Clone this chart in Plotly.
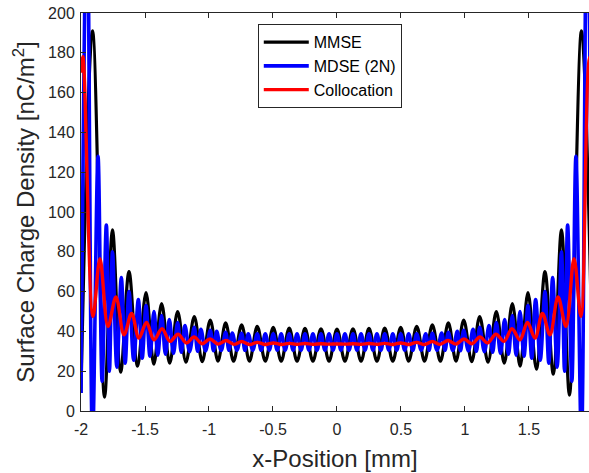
import plotly.graph_objects as go

# MMSE (black): peaks and troughs, x in mm
MMSE_X = [-2.000, -1.910, -1.816, -1.754, -1.690, -1.625, -1.558, -1.492, -1.431, -1.370,
          -1.307, -1.245, -1.180, -1.115, -1.053, -0.990, -0.930, -0.870, -0.808, -0.745,
          -0.684, -0.623, -0.560, -0.498, -0.436, -0.373, -0.312, -0.250, -0.188, -0.125,
          -0.062, 0.000, 0.062, 0.125, 0.188, 0.250, 0.312, 0.373, 0.436, 0.498,
          0.560, 0.623, 0.684, 0.745, 0.808, 0.870, 0.930, 0.990, 1.053, 1.115,
          1.180, 1.245, 1.307, 1.370, 1.431, 1.492, 1.558, 1.625, 1.690, 1.754,
          1.816, 1.910, 2.000]
MMSE_Y = [9, 191, 7, 91, 19.5, 70, 22.5, 59.5, 23.5, 54,
          24, 50, 24.5, 47.5, 24.8, 45.7, 25, 44.3, 25, 43.3,
          25, 42.5, 25, 42, 25, 41.7, 25, 41.5, 25, 41.3,
          25, 41.2, 25, 41.3, 25, 41.5, 25, 41.7, 25, 42,
          25, 42.5, 25, 43.3, 25, 44.3, 25, 45.7, 24.8, 47.5,
          24.5, 50, 24, 54, 22.5, 59.5, 21, 70, 18.5, 91,
          8, 191, 9]

# MDSE (2N) (blue)
MDSE_X = [-2.000, -1.953, -1.910, -1.867, -1.835, -1.802, -1.778, -1.754, -1.720, -1.685,
          -1.655, -1.625, -1.588, -1.552, -1.522, -1.492, -1.461, -1.430, -1.400, -1.370,
          -1.340, -1.310, -1.278, -1.245, -1.216, -1.188, -1.152, -1.115, -1.089, -1.063,
          -1.027, -0.990, -0.965, -0.940, -0.905, -0.870, -0.844, -0.818, -0.782, -0.745,
          -0.719, -0.693, -0.658, -0.623, -0.592, -0.560, -0.529, -0.498, -0.467, -0.436,
          -0.405, -0.373, -0.343, -0.312, -0.281, -0.250, -0.219, -0.188, -0.156, -0.125,
          -0.094, -0.062, -0.031, 0.000,
          0.031, 0.062, 0.094, 0.125, 0.156, 0.188, 0.219, 0.250, 0.281, 0.312,
          0.343, 0.373, 0.405, 0.436, 0.467, 0.498, 0.529, 0.560, 0.592, 0.623,
          0.658, 0.693, 0.719, 0.745, 0.782, 0.818, 0.844, 0.870, 0.905, 0.940,
          0.965, 0.990, 1.027, 1.063, 1.089, 1.115, 1.152, 1.188, 1.216, 1.245,
          1.278, 1.310, 1.340, 1.370, 1.400, 1.430, 1.461, 1.492, 1.522, 1.552,
          1.588, 1.625, 1.655, 1.685, 1.720, 1.754, 1.778, 1.802, 1.835, 1.867,
          1.910, 1.953, 2.000]
MDSE_Y = [9, 260, -15, 128, 15, 93.5, 20, 80, 22, 67,
          24, 60, 25.5, 56, 26.5, 53, 27.5, 50, 28, 48,
          28.5, 46, 29, 44.5, 29.5, 43, 29.8, 42, 30, 41,
          30.2, 40.5, 30.3, 40, 30.4, 39.5, 30.5, 39.2, 30.5, 39,
          30.5, 38.8, 30.5, 38.8, 30.5, 38.8, 30.5, 38.8, 30.5, 38.8,
          30.5, 38.8, 30.5, 38.8, 30.5, 38.8, 30.5, 38.8, 30.5, 38.8,
          30.5, 38.8, 30.5, 38.8,
          30.5, 38.8, 30.5, 38.8, 30.5, 38.8, 30.5, 38.8, 30.5, 38.8,
          30.5, 38.8, 30.5, 38.8, 30.5, 38.8, 30.5, 38.8, 30.5, 38.8,
          30.5, 38.8, 30.5, 39, 30.5, 39.2, 30.5, 39.5, 30.4, 40,
          30.3, 40.5, 30.2, 41, 30, 42, 29.8, 43, 29.5, 44.5,
          29, 46, 28.5, 48, 28, 50, 27.5, 53, 26.5, 56,
          25.5, 60, 24, 67, 22, 80, 20, 93.5, 15, 128,
          -15, 260, 9]

# Collocation (red)
COLL_X = [-2.000, -1.985, -1.906, -1.852, -1.789, -1.727, -1.664, -1.605, -1.547, -1.488,
          -1.430, -1.367, -1.305, -1.242, -1.176, -1.117, -1.055, -0.992, -0.930, -0.867,
          -0.805, -0.745, -0.684, -0.623, -0.560, -0.498, -0.436, -0.373, -0.312, -0.250,
          -0.188, -0.125, -0.062, 0.000,
          0.062, 0.125, 0.188, 0.250, 0.312, 0.373, 0.436, 0.498, 0.560, 0.623,
          0.684, 0.745, 0.805, 0.867, 0.930, 0.992, 1.055, 1.117, 1.176, 1.242,
          1.305, 1.367, 1.430, 1.488, 1.547, 1.605, 1.664, 1.727, 1.789, 1.852,
          1.906, 1.975, 2.000]
COLL_Y = [170, 178, 47.5, 76.5, 42.5, 57.3, 38.3, 49, 36.7, 44.5,
          35.8, 41.3, 35, 38.6, 34.2, 37.2, 33.8, 36.2, 33.6, 35.4,
          33.5, 34.9, 33.4, 34.5, 33.4, 34.2, 33.4, 34.0, 33.5, 33.9,
          33.5, 33.8, 33.6, 33.7,
          33.6, 33.8, 33.5, 33.9, 33.5, 34.0, 33.4, 34.2, 33.4, 34.5,
          33.4, 34.9, 33.5, 35.4, 33.6, 36.2, 33.8, 37.2, 34.2, 38.6,
          35, 41.3, 35.8, 44.5, 36.7, 49, 38.3, 57.3, 42.5, 76.5,
          47.5, 178, 172]

X_TICKS = [-2, -1.5, -1, -0.5, 0, 0.5, 1, 1.5]
X_TICK_TEXT = ["-2", "-1.5", "-1", "-0.5", "0", "0.5", "1", "1.5"]

AX = "#262626"

fig = go.Figure()
fig.add_trace(go.Scatter(x=MMSE_X, y=MMSE_Y, name="MMSE", mode="lines",
                         line={"color": "#000000", "width": 3.2, "shape": "spline"}))
fig.add_trace(go.Scatter(x=MDSE_X, y=MDSE_Y, name="MDSE (2N)", mode="lines",
                         line={"color": "#0000FF", "width": 3.6, "shape": "spline"}))
fig.add_trace(go.Scatter(x=COLL_X, y=COLL_Y, name="Collocation", mode="lines",
                         line={"color": "#FF0000", "width": 3.4, "shape": "spline"}))

axis_style = dict(
    showgrid=False, zeroline=False, showline=True, linecolor=AX, linewidth=1,
    ticks="inside", ticklen=5, tickcolor=AX, tickwidth=1, automargin=False,
    tickfont={"size": 16, "color": AX},
)
fig.update_xaxes(
    range=[-2, 1.969], tickvals=X_TICKS, ticktext=X_TICK_TEXT, mirror="ticks",
    ticklabelstandoff=4,
    title={"text": "x-Position [mm]", "font": {"size": 24, "color": AX}, "standoff": 12},
    **axis_style,
)
fig.update_yaxes(
    range=[0, 200], dtick=20, mirror=False, ticklabelstandoff=2,
    title={"text": "Surface Charge Density [nC/m<sup>2</sup>]",
           "font": {"size": 24, "color": AX}, "standoff": 6},
    **axis_style,
)
fig.update_layout(
    width=589, height=473,
    margin={"l": 81, "r": 0, "t": 13, "b": 62, "autoexpand": False},
    plot_bgcolor="white", paper_bgcolor="white",
    font={"family": "Liberation Sans, Arial, sans-serif", "color": AX},
    legend={"x": 0.348, "y": 0.972, "xanchor": "left", "yanchor": "top",
            "bgcolor": "white", "bordercolor": AX, "borderwidth": 1,
            "font": {"size": 16, "color": "#000000"}, "itemwidth": 45,
            "tracegroupgap": 0},
)
# drop the page's default body margin so the figure fills the window
fig.write_html("out.html", config={"displayModeBar": False},
               post_script="document.body.style.margin='0px';document.body.style.overflow='hidden';")
